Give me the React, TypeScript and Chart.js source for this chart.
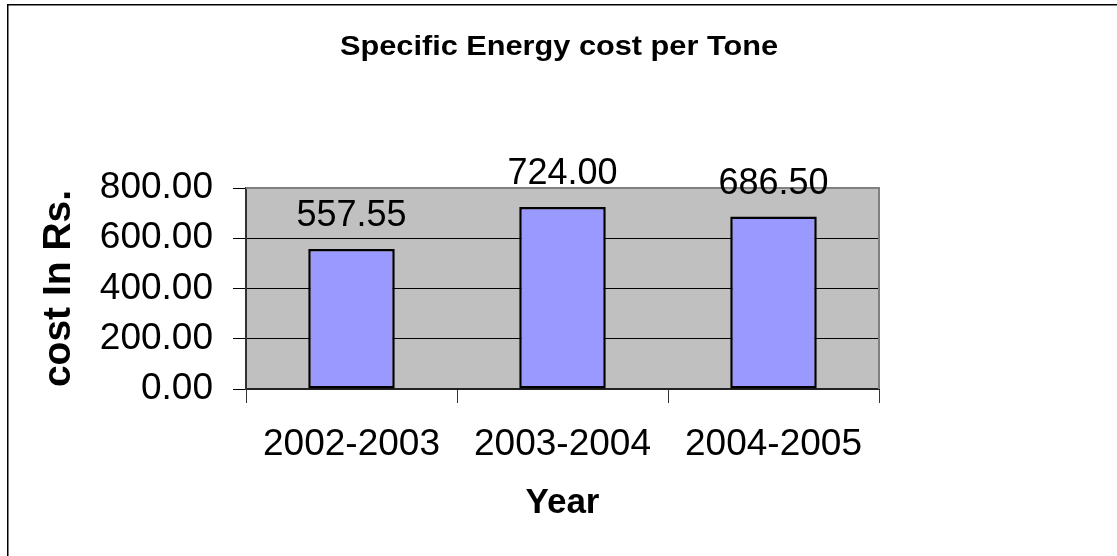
import React, { useEffect, useRef } from "react";
import { Chart, registerables } from "chart.js";

Chart.register(...registerables);

const categories = ["2002-2003", "2003-2004", "2004-2005"];
const costValues = [557.55, 724.0, 686.5];
const yTickMin = 0;
const yTickMax = 800;
const yTickStep = 200;
const chartTitle = "Specific Energy cost per Tone";
const yAxisTitle = "cost In Rs.";
const xAxisTitle = "Year";

const FONT = "'Liberation Sans', Arial, sans-serif";
const W = 1117;
const H = 556;

const framePlugin = {
  id: "framePlugin",
  beforeDraw(chart: any) {
    const { ctx, chartArea } = chart;
    ctx.save();
    ctx.fillStyle = "#ffffff";
    ctx.fillRect(0, 0, chart.width, chart.height);
    ctx.fillStyle = "#C0C0C0";
    ctx.fillRect(chartArea.left, chartArea.top, chartArea.right - chartArea.left, chartArea.bottom - chartArea.top);
    ctx.restore();
  },
  beforeDatasetsDraw(chart: any) {
    const { ctx, chartArea } = chart;
    ctx.save();
    ctx.strokeStyle = "#808080";
    ctx.lineWidth = 2;
    ctx.beginPath();
    ctx.moveTo(chartArea.left, chartArea.top);
    ctx.lineTo(chartArea.right, chartArea.top);
    ctx.lineTo(chartArea.right, chartArea.bottom);
    ctx.stroke();
    ctx.restore();
  },
  afterDatasetsDraw(chart: any) {
    const { ctx } = chart;
    const meta = chart.getDatasetMeta(0);
    ctx.save();
    ctx.fillStyle = "#000";
    ctx.font = `36px ${FONT}`;
    ctx.textAlign = "center";
    ctx.textBaseline = "alphabetic";
    meta.data.forEach((bar: any, i: number) => {
      ctx.fillText(costValues[i].toFixed(2), bar.x, bar.y - 23);
    });
    ctx.restore();
  },
  afterDraw(chart: any) {
    const { ctx } = chart;
    ctx.save();
    // outer chart frame
    ctx.strokeStyle = "#000";
    ctx.lineWidth = 1.5;
    ctx.strokeRect(7.75, 4.75, chart.width + 20, chart.height + 20);
    // title
    ctx.font = `bold 27px ${FONT}`;
    ctx.fillStyle = "#000";
    ctx.textAlign = "center";
    ctx.textBaseline = "alphabetic";
    const w = ctx.measureText(chartTitle).width;
    const sx = 438 / w;
    ctx.translate(559, 55);
    ctx.scale(sx, 1);
    ctx.fillText(chartTitle, 0, 0);
    ctx.restore();
  },
};

export default function App() {
  const ref = useRef<HTMLCanvasElement | null>(null);

  useEffect(() => {
    if (!ref.current) return;
    const chart = new Chart(ref.current, {
      type: "bar",
      data: {
        labels: categories,
        datasets: [
          {
            data: costValues,
            backgroundColor: "#9999FF",
            borderColor: "#000000",
            borderWidth: 2.5,
            borderSkipped: false,
            barPercentage: 0.41,
            categoryPercentage: 1,
          },
        ],
      },
      options: {
        responsive: false,
        animation: false,
        devicePixelRatio: 1,
        layout: { padding: { left: 0, top: 188, right: 238, bottom: 0 } },
        plugins: {
          legend: { display: false },
          title: { display: false },
          tooltip: { enabled: false },
        },
        scales: {
          x: {
            offset: true,
            grid: {
              display: true,
              drawOnChartArea: false,
              drawTicks: true,
              tickLength: 14,
              color: "#333",
              offset: true,
            },
            border: { display: true, color: "#222", width: 2 },
            ticks: {
              color: "#000",
              font: { family: FONT, size: 37 },
              padding: 20,
              maxRotation: 0,
              autoSkip: false,
            },
            title: {
              display: true,
              text: xAxisTitle,
              color: "#000",
              font: { family: FONT, size: 35, weight: "bold" },
              padding: { top: 0, bottom: 32 },
            },
            afterFit(scale: any) {
              scale.height = 167;
            },
          },
          y: {
            min: yTickMin,
            max: yTickMax,
            grid: {
              color: "#000",
              lineWidth: 1,
              tickLength: 13,
              drawTicks: true,
            },
            border: { display: true, color: "#333", width: 2 },
            ticks: {
              stepSize: yTickStep,
              color: "#000",
              font: { family: FONT, size: 37 },
              padding: 20,
              callback: (v: any) => Number(v).toFixed(2),
            },
            title: {
              display: true,
              text: yAxisTitle,
              color: "#000",
              font: { family: FONT, size: 39, weight: "bold" },
              padding: { top: 35.6, bottom: 0 },
            },
            afterFit(scale: any) {
              scale.width = 246;
            },
          },
        },
      },
      plugins: [framePlugin],
    });
    return () => chart.destroy();
  }, []);

  return (
    <div style={{ position: "fixed", left: 0, top: 0, width: W, height: H, background: "#fff" }}>
      <canvas ref={ref} width={W} height={H} style={{ display: "block", width: W, height: H }} />
    </div>
  );
}
